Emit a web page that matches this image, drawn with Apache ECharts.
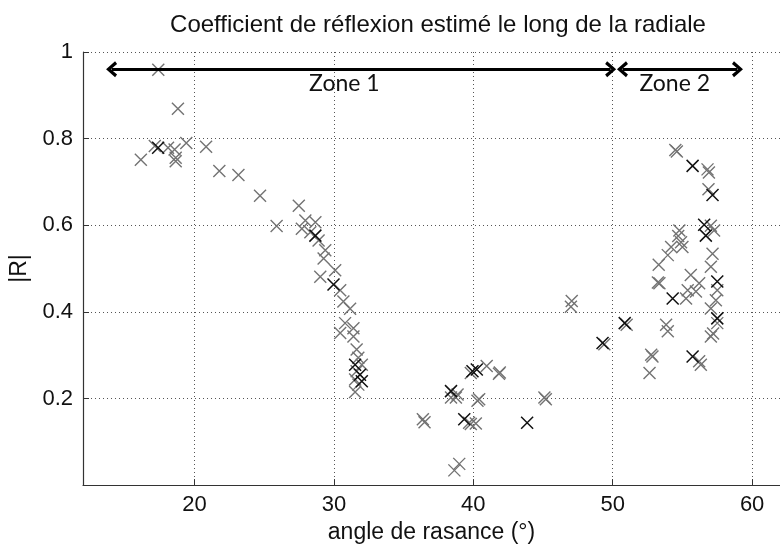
<!DOCTYPE html>
<html><head><meta charset="utf-8">
<script src="https://cdn.jsdelivr.net/npm/echarts@6/dist/echarts.min.js"></script>
<style>html,body{margin:0;padding:0;background:#fff}#c{width:780px;height:549px}</style>
</head><body><div id="c"></div>
<script>
const title = 'Coefficient de réflexion estimé le long de la radiale';
const xName = 'angle de rasance (°)';
const yName = '|R|';
const xRange = [12, 62];
const yRange = [0, 1];
const yInterval = 0.2;
// gray markers [angle, |R|]
const grayPts = [
 [17.4,0.959],[18.81,0.869],[16.15,0.751],[17.15,0.783],[18.1,0.779],[18.57,0.775],[18.65,0.756],[18.65,0.748],
 [19.41,0.79],[20.83,0.781],[21.78,0.725],[23.15,0.716],[24.7,0.668],[25.89,0.598],[27.48,0.645],[27.95,0.611],
 [27.7,0.592],[28.67,0.607],[28.31,0.584],[28.9,0.565],[29.38,0.542],[29.26,0.523],[29.02,0.481],[30.09,0.496],
 [30.45,0.45],[30.68,0.424],[31.16,0.407],[30.8,0.374],[30.45,0.351],[31.4,0.362],[31.4,0.343],[31.63,0.313],
 [31.75,0.294],[32.0,0.278],[31.63,0.263],[31.52,0.244],[31.75,0.232],[31.52,0.215],
 [36.38,0.152],[36.5,0.145],[38.87,0.209],[38.4,0.202],[38.75,0.202],[39.82,0.141],[39.7,0.144],[40.18,0.142],
 [40.42,0.198],[40.3,0.195],[38.64,0.034],[38.99,0.049],[39.82,0.259],[40.96,0.275],[41.84,0.257],[41.9,0.26],
 [45.1,0.202],[45.2,0.198],[47.06,0.425],[47.0,0.412],[49.4,0.325],
 [54.49,0.774],[54.6,0.77],[56.8,0.729],[56.9,0.722],[56.87,0.683],[57.04,0.599],[57.27,0.588],[54.78,0.588],
 [54.9,0.561],[54.19,0.55],[53.95,0.531],[53.3,0.509],[53.24,0.468],[53.35,0.466],[57.16,0.534],[57.04,0.504],
 [55.6,0.485],[56.2,0.466],[55.38,0.45],[55.97,0.447],[57.5,0.45],[55.26,0.431],[57.4,0.427],[57.04,0.408],
 [57.5,0.374],[57.04,0.343],[57.2,0.35],[51.0,0.37],[53.83,0.37],[53.95,0.355],[52.76,0.301],[52.85,0.297],
 [52.64,0.259],[56.32,0.278],[56.2,0.286],[54.7,0.575],[55.0,0.55]
];
// dark markers
const darkPts = [
 [17.39,0.779],[28.67,0.576],[29.97,0.463],[31.52,0.278],[31.87,0.255],[32.0,0.24],
 [38.4,0.217],[39.35,0.152],[39.94,0.263],[40.25,0.267],[43.86,0.144],[49.27,0.328],[50.86,0.374],
 [55.73,0.737],[57.16,0.67],[56.56,0.601],[56.68,0.576],[57.5,0.47],[54.3,0.431],[57.5,0.385],[55.73,0.297]
];
// annotation arrows and labels
const zoneArrows = [[[14.05,0.96],[49.85,0.96]],[[50.7,0.96],[58.95,0.96]]];
const zoneLabels = [['Zone 1',30.75,0.927],['Zone 2',54.45,0.927]];

const chart = echarts.init(document.getElementById('c'));
const xMark = 'path://M0,0 L10,10 M10,0 L0,10';
const chev = 'path://M5,0 L10,7.2 L8.3,8.8 L5,3.8 L1.7,8.8 L0,7.2 Z';
const F = 'Liberation Sans';
chart.setOption({
  animation:false,
  title:{text:title,left:433,textAlign:'center',top:8,textStyle:{fontFamily:F,fontSize:24,fontWeight:'normal',color:'#111'}},
  grid:{left:83,top:52,right:-5,bottom:61},
  xAxis:{type:'value',min:xRange[0],max:xRange[1],splitNumber:5,
    name:xName,nameLocation:'middle',nameGap:28,
    nameTextStyle:{fontFamily:F,fontSize:23,color:'#111'},
    axisLine:{lineStyle:{color:'#333',width:1.2}},
    axisTick:{inside:true,length:6,lineStyle:{color:'#333'}},
    axisLabel:{showMinLabel:false,showMaxLabel:false,fontFamily:F,fontSize:22,color:'#111',margin:9},
    splitLine:{show:true,lineStyle:{color:'#555',type:[1,3],width:1}}},
  yAxis:{type:'value',min:yRange[0],max:yRange[1],interval:yInterval,
    name:yName,nameLocation:'middle',nameGap:43,
    nameTextStyle:{fontFamily:F,fontSize:23,color:'#111'},
    axisLine:{show:true,lineStyle:{color:'#333',width:1.2}},
    axisTick:{show:true,inside:true,length:6,lineStyle:{color:'#333'}},
    axisLabel:{showMinLabel:false,fontFamily:F,fontSize:22,color:'#111',margin:10},
    splitLine:{show:true,lineStyle:{color:'#555',type:[1,3],width:1}}},
  series:[
    {type:'scatter',data:grayPts,symbol:xMark,symbolSize:12,
      itemStyle:{color:'none',borderColor:'#737373',borderWidth:1.4,opacity:1},
      markLine:{silent:true,symbol:[chev,chev],symbolSize:[16,11],
        lineStyle:{color:'#000',width:3,type:'solid'},label:{show:false},
        data:zoneArrows.map(a=>[{coord:a[0]},{coord:a[1]}])},
      markPoint:{silent:true,symbol:'rect',symbolSize:1,itemStyle:{color:'rgba(0,0,0,0)'},
        label:{show:true,position:'inside',formatter:p=>p.name,fontFamily:'Lato',fontSize:23,color:'#111'},
        data:zoneLabels.map(z=>({name:z[0],coord:[z[1],z[2]]}))}
    },
    {type:'scatter',data:darkPts,symbol:xMark,symbolSize:12,
      itemStyle:{color:'none',borderColor:'#111',borderWidth:1.5,opacity:1}}
  ]
});
</script></body></html>
